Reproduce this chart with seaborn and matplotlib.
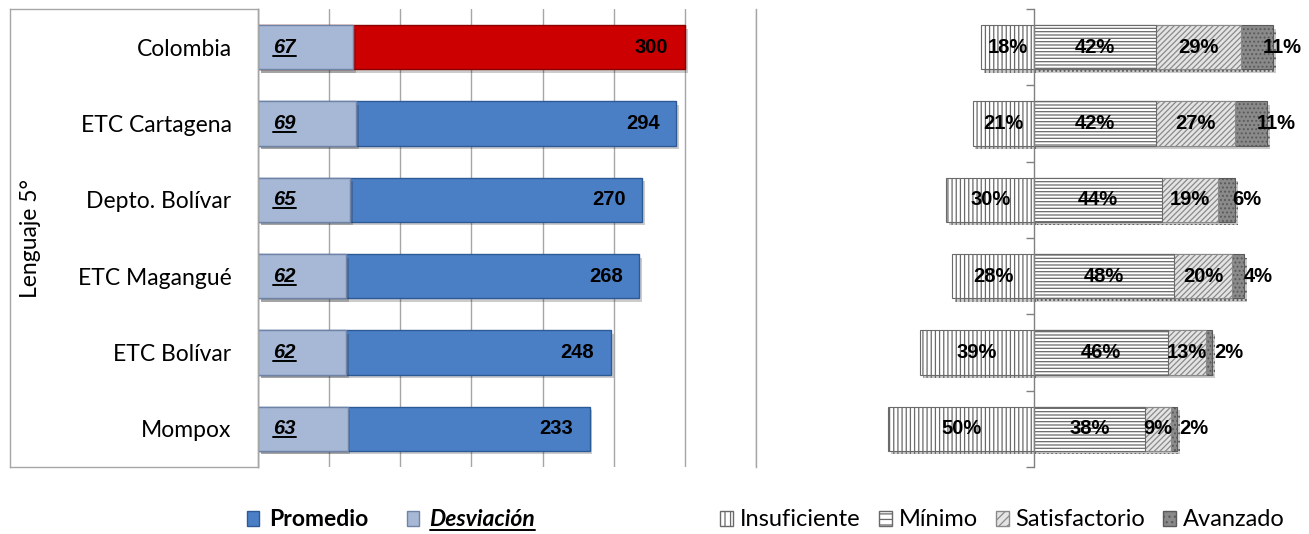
import numpy as np
import pandas as pd
import matplotlib
matplotlib.use("Agg")
import matplotlib.pyplot as plt
import seaborn as sns
from matplotlib.patches import Patch
from matplotlib.lines import Line2D
import matplotlib.patheffects as pe

# ---------------- data ----------------
categorias = ["Colombia", "ETC Cartagena", "Depto. Bolívar", "ETC Magangué", "ETC Bolívar", "Mompox"]
promedio = [300, 294, 270, 268, 248, 233]
desviacion = [67, 69, 65, 62, 62, 63]
insuficiente = [18, 21, 30, 28, 39, 50]
minimo = [42, 42, 44, 48, 46, 38]
satisfactorio = [29, 27, 19, 20, 13, 9]
avanzado = [11, 11, 6, 4, 2, 2]
eje_titulo = "Lenguaje 5°"
leyenda_izq = ["Promedio", "Desviación"]
leyenda_der = ["Insuficiente", "Mínimo", "Satisfactorio", "Avanzado"]
x_ticks = [0, 50, 100, 150, 200, 250, 300, 350]

# ---------------- style ----------------
sns.set_theme(style="white")
plt.rcParams["font.family"] = ["Lato", "DejaVu Sans"]
plt.rcParams["hatch.linewidth"] = 0.9
plt.rcParams["text.color"] = "black"
plt.rcParams["ytick.labelcolor"] = "black"
plt.rcParams["ytick.color"] = "black"

C_PROM = "#4A7FC5"
C_PROM_E = "#2C5A94"
C_COL = "#CC0000"
C_COL_E = "#8B0000"
C_DEV = "#A7B8D6"
C_DEV_E = "#6F83A7"
GRID = "#A6A6A6"
NUMFONT = ["Liberation Sans", "DejaVu Sans"]

W, H = 1309, 534
fig = plt.figure(figsize=(W / 100, H / 100), dpi=100)


def fx(px):
    return px / W


def fy(py):
    return 1 - py / H


top, bot = 9, 467
hgt = (bot - top) / H
box = fig.add_axes([fx(10), fy(bot), fx(258 - 10), hgt])
axL = fig.add_axes([fx(258), fy(bot), fx(756 - 258), hgt])
axR = fig.add_axes([fx(757), fy(bot), fx(1305 - 757), hgt])
for a in (box, axL, axR):
    a.patch.set_alpha(0)

# label box frame
box.set_xticks([])
box.set_yticks([])
for s in box.spines.values():
    s.set_color(GRID)
    s.set_linewidth(1)

shadow = [pe.SimplePatchShadow(offset=(2, -2.5), shadow_rgbFace="k", alpha=0.22), pe.Normal()]

# ---------------- left panel ----------------
df = pd.DataFrame({"cat": categorias, "prom": promedio, "dev": desviacion})
pal = {c: (C_COL if c == "Colombia" else C_PROM) for c in categorias}
sns.barplot(data=df, y="cat", x="prom", hue="cat", palette=pal, order=categorias,
            orient="h", width=0.58, saturation=1, legend=False, ax=axL,
            linewidth=1)
for p, c in zip(axL.patches, categorias):
    p.set_edgecolor(C_COL_E if c == "Colombia" else C_PROM_E)
    p.set_path_effects(shadow)
n0 = len(axL.patches)
sns.barplot(data=df, y="cat", x="dev", color=C_DEV, order=categorias, orient="h",
            width=0.58, saturation=1, ax=axL, edgecolor=C_DEV_E, linewidth=1)
for p in axL.patches[n0:]:
    p.set_path_effects(shadow)

axL.set_xlim(0, 350)
axL.set_ylim(len(categorias) - 0.5, -0.5)
axL.set_xticks(x_ticks)
axL.set_xticklabels([])
axL.xaxis.grid(True, color=GRID, linewidth=1)
axL.yaxis.grid(False)
axL.set_axisbelow(True)
axL.set_xlabel("")
axL.set_ylabel("")
axL.tick_params(axis="both", length=0)
axL.tick_params(axis="y", pad=19, labelsize=16.5, labelcolor="black")
for s in ["top", "bottom"]:
    axL.spines[s].set_visible(False)
for s in ["left", "right"]:
    axL.spines[s].set_color(GRID)
    axL.spines[s].set_linewidth(1)

dev_texts = []
for i, (p, d) in enumerate(zip(promedio, desviacion)):
    axL.annotate(str(p), xy=(p, i), xytext=(-12, 0), textcoords="offset points",
                 ha="right", va="center", fontsize=14.5, fontweight="bold",
                 family=NUMFONT, color="black")
    t = axL.annotate(str(d), xy=(0, i), xytext=(11, 0), textcoords="offset points",
                     ha="left", va="center", fontsize=14.5, fontweight="bold",
                     fontstyle="italic", family=NUMFONT, color="black")
    dev_texts.append(t)

fig.text(fx(31), fy(238), eje_titulo, rotation=90, ha="center", va="center",
         fontsize=16.5, color="black")

# ---------------- right panel ----------------
total_pos = [m + s + a for m, s, a in zip(minimo, satisfactorio, avanzado)]
min_sat = [m + s for m, s in zip(minimo, satisfactorio)]
neg_ins = [-v for v in insuficiente]

layers = [
    (neg_ins, "white", "||||", "#6A6A6A"),
    (total_pos, "#8A8A8A", "....", "#5A5A5A"),
    (min_sat, "#E4E4E4", "//////", "#8A8A8A"),
    (minimo, "white", "-----", "#6A6A6A"),
]
for k, (vals, fc, hatch, ec) in enumerate(layers):
    start = len(axR.patches)
    sns.barplot(x=vals, y=categorias, order=categorias, orient="h", color=fc,
                saturation=1, width=0.58, ax=axR, hatch=hatch, edgecolor=ec,
                linewidth=0.8)
    if k in (0, 1):
        for p in axR.patches[start:]:
            p.set_path_effects(shadow)

axR.set_xlim(-95, 93)
axR.set_ylim(len(categorias) - 0.5, -0.5)
axR.set_xticks([])
axR.set_yticks(np.arange(-0.5, len(categorias), 1))
axR.set_yticklabels([])
axR.set_xlabel("")
axR.set_ylabel("")
for s in ["top", "bottom", "right"]:
    axR.spines[s].set_visible(False)
axR.spines["left"].set_position(("data", 0))
axR.spines["left"].set_color("#808080")
axR.spines["left"].set_linewidth(1)
axR.tick_params(axis="y", left=True, direction="out", length=6, width=1, color="#808080")
axR.grid(False)

pct_kw = dict(va="center", fontsize=14.5, fontweight="bold", family=NUMFONT, color="black")
for i in range(len(categorias)):
    axR.text(-insuficiente[i] / 2, i, f"{insuficiente[i]}%", ha="center", **pct_kw)
    axR.text(minimo[i] / 2, i, f"{minimo[i]}%", ha="center", **pct_kw)
    axR.text(minimo[i] + satisfactorio[i] / 2, i, f"{satisfactorio[i]}%", ha="center", **pct_kw)
    axR.annotate(f"{avanzado[i]}%", xy=(min_sat[i] + avanzado[i] / 2, i), xytext=(4, 0),
                 textcoords="offset points", ha="left", **pct_kw)

# ---------------- legends ----------------
hL = [Patch(facecolor=C_PROM, edgecolor=C_PROM_E), Patch(facecolor=C_DEV, edgecolor=C_DEV_E)]
legL = fig.legend(hL, leyenda_izq, loc="center left", bbox_to_anchor=(fx(226), fy(520)),
                  ncol=2, frameon=False, handlelength=0.55, handleheight=0.6,
                  handletextpad=0.45, columnspacing=1.65,
                  prop=dict(family="Lato", size=16.5, weight="bold"))
legL.get_texts()[1].set_fontstyle("italic")
for t in legL.get_texts():
    t.set_color("black")

hR = [Patch(facecolor="white", edgecolor="#6A6A6A", hatch="|||"),
      Patch(facecolor="white", edgecolor="#6A6A6A", hatch="---"),
      Patch(facecolor="#E4E4E4", edgecolor="#8A8A8A", hatch="////"),
      Patch(facecolor="#8A8A8A", edgecolor="#5A5A5A", hatch="...")]
legR = fig.legend(hR, leyenda_der, loc="center left", bbox_to_anchor=(fx(699), fy(520)),
                  ncol=4, frameon=False, handlelength=0.55, handleheight=0.6,
                  handletextpad=0.3, columnspacing=0.75,
                  prop=dict(family="Lato", size=17))
for t in legR.get_texts():
    t.set_color("black")

# ---------------- underlines ----------------
fig.canvas.draw()
renderer = fig.canvas.get_renderer()
for t in dev_texts + [legL.get_texts()[1]]:
    bb = t.get_window_extent(renderer)
    yline = (bb.y0 + 1.0) / H
    fig.add_artist(Line2D([bb.x0 / W, bb.x1 / W], [yline, yline], color="black", lw=1.4))

fig.savefig("out.png", dpi=100)
